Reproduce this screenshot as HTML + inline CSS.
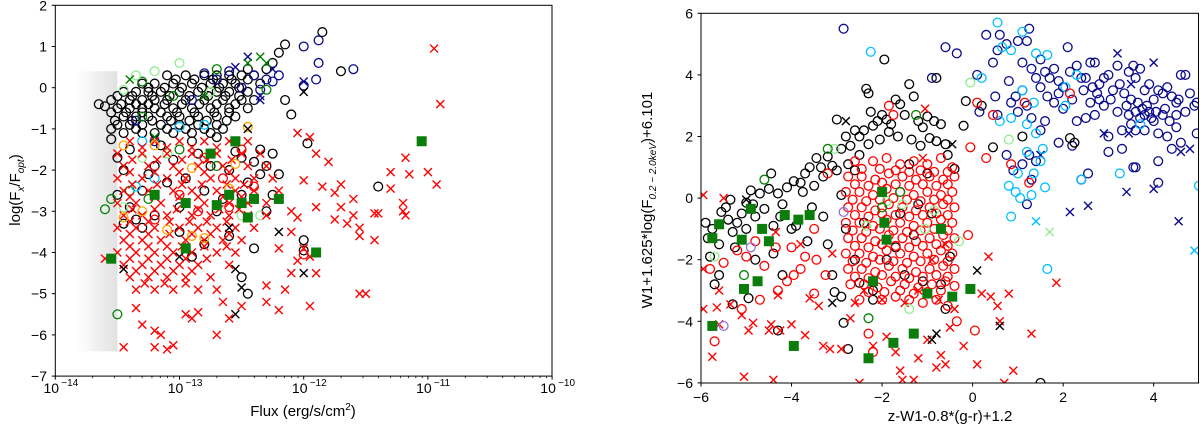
<!DOCTYPE html>
<html><head><meta charset="utf-8"><style>
html,body{margin:0;padding:0;background:#fff}
svg{display:block}
text{font-family:"Liberation Sans",sans-serif;fill:#000}
</style></head><body>
<svg id="fig" width="1200" height="429" viewBox="0 0 1200 429" xmlns="http://www.w3.org/2000/svg">
<defs>
<linearGradient id="haze" x1="0" x2="1" y1="0" y2="0">
<stop offset="0" stop-color="#fff" stop-opacity="0"/>
<stop offset="0.5" stop-color="#e4e4e4" stop-opacity="0.5"/>
<stop offset="1" stop-color="#d4d4d4" stop-opacity="0.7"/>
</linearGradient>
<clipPath id="clipL"><rect x="55.3" y="5.3" width="496.7" height="370.8"/></clipPath>
<clipPath id="clipR"><rect x="701" y="13.3" width="498" height="369.7"/></clipPath>
</defs>
<g id="left"></g>
<g id="right"></g>
</svg>
<script>
// ---------- LEFT PANEL DATA (x = log10 flux, y = log(Fx/Fopt)) ----------
const leftXTicks = [-14,-13,-12,-11,-10];
const leftYTicks = [2,1,0,-1,-2,-3,-4,-5,-6,-7];
const L_blackCirc = [
[-13.1,0.3],[-12.95,0.3],[-12.8,0.3],[-12.7,0.3],[-12.6,0.3],[-12.5,0.3],[-12.4,0.3],
[-13.3,0.1],[-13.2,0.1],[-13.05,0.1],[-12.9,0.1],[-12.75,0.1],[-12.65,0.1],[-12.55,0.1],[-12.35,0.1],
[-13.45,-0.1],[-13.35,-0.1],[-13.25,-0.1],[-13.15,-0.1],[-13.0,-0.1],[-12.85,-0.1],[-12.7,-0.1],[-12.6,-0.1],[-12.45,-0.1],
[-13.55,-0.3],[-13.4,-0.3],[-13.3,-0.3],[-13.2,-0.3],[-13.1,-0.3],[-12.95,-0.3],[-12.8,-0.3],[-12.65,-0.3],[-12.5,-0.3],[-12.4,-0.3],
[-13.5,-0.5],[-13.4,-0.5],[-13.3,-0.5],[-13.2,-0.5],[-13.05,-0.5],[-12.9,-0.5],[-12.75,-0.5],[-12.6,-0.5],[-12.45,-0.5],
[-13.45,-0.7],[-13.35,-0.7],[-13.25,-0.7],[-13.1,-0.7],[-13.0,-0.7],[-12.85,-0.7],[-12.7,-0.7],[-12.55,-0.7],
[-13.5,-0.9],[-13.4,-0.9],[-13.3,-0.9],[-13.15,-0.9],[-13.0,-0.9],[-12.85,-0.9],[-12.7,-0.9],
[-13.45,-1.1],[-13.3,-1.1],[-13.2,-1.1],[-13.05,-1.1],[-12.9,-1.1],[-12.75,-1.1],
[-13.03,0.2],[-12.88,0.2],[-12.73,0.2],[-12.58,0.2],[-12.45,0.2],[-13.25,0.0],[-13.12,0.0],[-12.98,0.0],[-12.82,0.0],[-12.68,0.0],[-12.52,0.0],
[-13.5,-0.2],[-13.38,-0.2],[-13.22,-0.2],[-13.08,-0.2],[-12.92,-0.2],[-12.77,-0.2],[-12.63,-0.2],[-12.52,-0.2],
[-13.47,-0.4],[-13.35,-0.4],[-13.25,-0.4],[-13.12,-0.4],[-12.98,-0.4],[-12.84,-0.4],[-12.7,-0.4],[-12.55,-0.4],
[-13.55,-0.6],[-13.43,-0.6],[-13.3,-0.6],[-13.15,-0.6],[-13.02,-0.6],[-12.88,-0.6],[-12.72,-0.6],[-12.6,-0.6],
[-13.52,-0.8],[-13.38,-0.8],[-13.22,-0.8],[-13.07,-0.8],[-12.92,-0.8],[-12.78,-0.8],[-12.62,-0.8],
[-13.55,-1.0],[-13.35,-1.0],[-13.1,-1.0],[-12.95,-1.0],[-12.8,-1.0],[-12.65,-1.0],
[-13.55,-1.25],[-13.5,-1.7],[-13.45,-2.0],[-13.5,-2.6],[-13.4,-2.9],[-13.3,-2.5],[-13.2,-1.9],[-13.1,-2.3],[-13.0,-2.9],[-12.95,-2.2],[-12.85,-1.6],[-12.8,-2.5],[-12.7,-3.0],[-12.6,-2.0],[-12.5,-1.7],[-12.45,-2.3],[-12.4,-1.8],[-12.3,-1.9],[-12.25,-2.6],[-12.2,-2.1],[-13.3,-3.4],[-13.2,-3.1],[-13.0,-3.5],[-12.9,-4.1],[-12.8,-3.8],[-12.6,-3.6],[-12.4,-3.9],[-13.15,-1.4],[-12.9,-1.3],[-12.7,-1.2],[-12.55,-1.55],[-12.5,-2.6],[-12.35,-1.5],
[-13.4,-1.5],[-13.25,-2.1],[-13.05,-1.75],[-12.75,-1.9],[-13.35,-3.2],[-12.65,-2.7],[-12.35,-2.1],[-12.25,-1.6],
[-12.15,1.05],[-11.85,1.35],[-12.2,0.85],[-11.7,0.4],[-12.15,-0.3],[-12.1,-0.65],[-11.97,-1.35],[-11.4,-2.4],[-12.3,-3.0],[-12.0,-3.7],[-12.0,-3.95],[-12.5,-4.6],[-12.45,-5.0],[-13.45,-3.3],[-13.6,-0.45],[-13.65,-0.4],[-12.25,0.6],[-12.3,0.45],[-12.45,0.45]];
const L_navyCirc = [[-12.0,1.0],[-11.88,1.15],[-11.88,0.6],[-11.6,0.45],[-11.9,0.2],[-12.0,0.05],[-12.2,0.3],[-12.3,0.2],[-12.4,0.3],[-12.6,0.4],[-12.7,0.2],[-12.5,0.0],[-12.35,-0.05],[-12.8,0.35],[-12.9,-0.3],[-13.2,-1.3],[-13.35,-0.8],[-12.25,0.15]];
const L_navyX = [[-12.45,0.75],[-12.35,-0.2],[-12.35,-0.3],[-12.0,0.15],[-12.25,0.45],[-12.55,0.5]];
const L_greenCirc = [[-13.6,-2.95],[-13.55,-2.7],[-13.4,-2.5],[-13.25,-2.7],[-13.0,-1.5],[-12.7,-1.9],[-13.5,-5.5],[-12.7,0.45],[-13.3,0.15],[-13.3,-0.7],[-12.3,-0.05],[-13.05,-0.2]];
const L_lgreenCirc = [[-13.45,-0.05],[-13.35,0.3],[-13.2,0.4],[-13.0,0.6],[-12.75,-0.1],[-13.3,-1.7],[-13.1,-1.6],[-12.5,-1.5],[-12.5,-3.1],[-12.35,-3.1],[-13.45,-2.9]];
const L_greenX = [[-12.35,0.75],[-12.3,0.6],[-12.45,0.6],[-13.4,0.2],[-13.2,-1.2],[-12.8,-0.2]];
const L_cyanCirc = [[-13.0,-0.95],[-12.8,-0.9],[-13.35,-2.4],[-13.3,-1.3],[-13.2,-2.2]];
const L_orangeCirc = [[-13.45,-1.4],[-13.2,-1.4],[-12.9,-1.95],[-12.6,-2.45],[-12.45,-0.95],[-12.8,-3.65],[-13.3,-3.0],[-13.1,-3.45],[-12.9,-3.6],[-12.55,-1.85],[-13.45,-3.15]];
const L_redCirc = [[-12.5,-1.5],[-12.6,-2.9],[-12.0,-4.05],[-12.4,-2.4],[-13.0,-2.6],[-12.8,-1.7],[-13.2,-3.2],[-12.85,-3.0],[-12.65,-2.2]];
const L_redX = [
[-13.4,-1.3],[-13.2,-1.3],[-13.0,-1.3],[-12.8,-1.3],[-12.6,-1.3],[-12.45,-1.3],
[-13.5,-1.6],[-13.3,-1.6],[-13.1,-1.6],[-12.9,-1.6],[-12.7,-1.6],[-12.5,-1.6],[-12.35,-1.6],
[-13.45,-1.9],[-13.25,-1.9],[-13.05,-1.9],[-12.85,-1.9],[-12.65,-1.9],[-12.45,-1.9],[-12.3,-1.9],
[-13.5,-2.2],[-13.3,-2.2],[-13.1,-2.2],[-12.95,-2.2],[-12.75,-2.2],[-12.55,-2.2],[-12.4,-2.2],[-12.25,-2.2],
[-13.45,-2.5],[-13.25,-2.5],[-13.05,-2.5],[-12.9,-2.5],[-12.7,-2.5],[-12.55,-2.5],[-12.4,-2.5],[-12.2,-2.5],
[-13.5,-2.8],[-13.35,-2.8],[-13.15,-2.8],[-12.95,-2.8],[-12.8,-2.8],[-12.6,-2.8],[-12.45,-2.8],[-12.3,-2.8],
[-13.45,-3.1],[-13.3,-3.1],[-13.1,-3.1],[-12.9,-3.1],[-12.75,-3.1],[-12.6,-3.1],[-12.45,-3.1],[-12.3,-3.1],
[-13.5,-3.4],[-13.35,-3.4],[-13.2,-3.4],[-13.0,-3.4],[-12.85,-3.4],[-12.7,-3.4],[-12.55,-3.4],[-12.4,-3.4],
[-13.45,-3.7],[-13.3,-3.7],[-13.15,-3.7],[-12.95,-3.7],[-12.8,-3.7],[-12.65,-3.7],[-12.5,-3.7],
[-13.5,-4.0],[-13.35,-4.0],[-13.2,-4.0],[-13.05,-4.0],[-12.9,-4.0],[-12.7,-4.0],[-12.55,-4.0],
[-13.45,-4.3],[-13.3,-4.3],[-13.15,-4.3],[-13.0,-4.3],[-12.85,-4.3],[-12.6,-4.3],
[-13.4,-4.6],[-13.25,-4.6],[-13.1,-4.6],[-12.95,-4.6],[-12.75,-4.6],
[-13.35,-4.9],[-13.2,-4.9],[-13.05,-4.9],[-12.85,-4.9],[-12.7,-4.9],
[-13.3,-1.45],[-13.1,-1.45],[-12.9,-1.45],[-12.7,-1.45],[-13.38,-1.75],[-13.18,-1.75],[-12.98,-1.75],[-12.78,-1.75],[-12.58,-1.75],
[-13.4,-2.05],[-13.2,-2.05],[-13.0,-2.05],[-12.8,-2.05],[-12.6,-2.05],[-13.38,-2.35],[-13.18,-2.35],[-12.98,-2.35],[-12.82,-2.35],[-12.62,-2.35],[-12.48,-2.35],
[-13.4,-2.65],[-13.2,-2.65],[-13.0,-2.65],[-12.85,-2.65],[-12.65,-2.65],[-12.5,-2.65],[-13.38,-2.95],[-13.2,-2.95],[-13.02,-2.95],[-12.85,-2.95],[-12.68,-2.95],[-12.52,-2.95],
[-13.4,-3.25],[-13.25,-3.25],[-13.08,-3.25],[-12.92,-3.25],[-12.78,-3.25],[-12.62,-3.25],[-13.4,-3.55],[-13.25,-3.55],[-13.08,-3.55],[-12.9,-3.55],[-12.75,-3.55],[-12.6,-3.55],
[-13.4,-3.85],[-13.25,-3.85],[-13.1,-3.85],[-12.98,-3.85],[-12.8,-3.85],[-12.62,-3.85],[-13.4,-4.15],[-13.25,-4.15],[-13.1,-4.15],[-12.95,-4.15],[-12.78,-4.15],
[-13.35,-4.45],[-13.2,-4.45],[-13.05,-4.45],[-12.9,-4.45],[-13.28,-4.75],[-13.12,-4.75],[-12.95,-4.75],
[-13.6,-4.15],[-13.35,-5.35],[-13.3,-5.75],[-13.2,-5.9],[-13.15,-6.0],[-13.2,-6.3],[-13.45,-6.3],[-13.1,-6.35],[-13.05,-6.25],[-12.95,-5.5],[-12.85,-5.45],[-12.9,-5.6],[-12.7,-6.0],[-12.65,-5.2],[-12.5,-5.3],[-12.6,-5.6],[-12.3,-5.2],[-12.2,-5.4],[-12.15,-4.9],[-12.1,-4.5],[-12.05,-4.2],[-12.2,-3.9],[-12.1,-3.5],[-12.0,-3.9],[-11.9,-4.5],[-12.3,-4.8],[-12.0,-2.25],[-12.05,-1.1],[-11.95,-1.2],[-11.9,-1.6],[-11.85,-2.4],[-11.75,-2.55],[-11.7,-2.35],[-11.6,-2.7],[-11.55,-3.4],[-11.55,-3.6],[-11.7,-2.9],[-11.9,-2.9],[-11.4,-3.05],[-11.6,-3.1],[-11.3,-2.05],[-11.3,-2.45],[-11.2,-2.8],[-11.2,-3.0],[-11.15,-2.1],[-11.43,-3.05],[-11.43,-3.7],[-11.18,-1.7],[-11.18,-3.1],[-11.0,-2.05],[-10.93,-2.35],[-10.9,-0.4],[-10.95,0.95],[-11.5,-5.0],[-11.55,-5.0],[-11.95,-5.3],[-11.95,-4.1],[-12.1,-3.0],[-12.05,-3.15],[-11.8,-1.8],[-11.75,-3.2],[-11.65,-3.3]];
const L_blackX = [[-12.45,-1.0],[-12.2,-3.5],[-12.55,-4.4],[-12.5,-4.85],[-12.55,-5.5],[-12.0,-4.5],[-12.0,-0.1],[-12.6,-3.4],[-13.45,-4.4],[-13.0,-4.1]];
const L_greenSq = [[-13.55,-4.15],[-12.55,-1.3],[-12.95,-2.8],[-12.4,-2.7],[-12.5,-2.8],[-12.45,-3.15],[-12.6,-2.6],[-12.2,-2.7],[-11.9,-4.0],[-11.05,-1.3],[-12.7,-2.85],[-12.95,-3.9],[-13.2,-2.6],[-12.75,-1.6]];

// ---------- RIGHT PANEL DATA ----------
const rightXTicks = [-6,-4,-2,0,2,4];
const rightYTicks = [6,4,2,0,-2,-4,-6];
const R_navyCirc = [[-2.85,5.5],[-0.6,4.9],[-0.35,4.7],[-0.9,3.9],[0.1,4.0],[0.15,2.8],[0.5,3.3],[0.55,2.7],[0.45,4.4],[0.55,4.8],[0.75,5.0],[0.6,5.3],[0.3,5.3],[1.0,5.1],[1.25,5.5],[1.2,5.1],[0.8,3.8],[0.85,3.1],[0.95,3.3],[1.1,3.5],[1.1,4.4],[1.3,4.2],[1.5,4.5],[1.4,3.9],[1.6,4.1],[1.7,3.9],[1.8,4.2],[1.9,3.8],[2.0,3.6],[2.1,4.9],[2.15,4.1],[2.3,4.3],[2.4,3.9],[2.5,3.9],[2.6,4.4],[2.7,4.4],[2.8,3.7],[2.9,3.9],[3.0,4.0],[3.1,3.5],[3.2,4.3],[3.35,3.4],[3.45,4.1],[3.55,4.3],[3.6,3.9],[3.7,4.2],[3.8,3.5],[3.9,3.7],[4.0,3.2],[4.1,3.5],[4.2,3.4],[4.3,3.6],[4.4,3.3],[4.5,3.1],[4.55,3.2],[4.6,4.0],[4.7,4.0],[4.8,3.4],[4.9,3.0],[4.95,3.1],[4.95,2.1],[1.0,2.8],[1.2,3.0],[1.3,2.6],[1.5,2.2],[1.6,2.5],[1.8,3.1],[1.9,1.8],[2.2,1.7],[2.3,2.5],[2.5,2.6],[2.6,3.1],[2.7,2.7],[2.8,3.2],[2.9,3.0],[3.0,2.0],[3.0,1.5],[3.3,2.2],[3.3,1.6],[3.5,2.4],[3.6,2.8],[3.7,2.6],[3.8,2.2],[3.9,2.8],[4.0,2.5],[4.1,2.1],[4.2,2.7],[4.3,2.0],[4.4,1.6],[4.5,2.3],[4.6,1.8],[4.1,1.2],[4.1,0.5],[3.6,1.0],[3.55,1.0],[2.55,0.8],[2.4,0.6],[1.25,1.4],[1.4,1.2],[1.1,1.1],[1.2,-0.2],[1.3,0.6],[0.75,1.4],[0.9,0.9],[2.0,2.9],[3.4,3.0],[3.2,2.8],[4.7,2.8],[4.5,2.7],
[3.5,3.2],[3.65,3.1],[3.75,2.9],[3.85,3.0],[3.95,2.6],[4.05,2.8],[4.25,2.9],[4.35,2.5],[3.45,2.7],[3.6,2.2],[3.8,2.7],[2.45,3.5],[2.65,3.6],[2.75,3.4],[3.05,3.2],[3.25,3.7],[1.5,3.6],[1.65,3.3],[1.9,3.4],[2.2,3.2]];
const R_navyX = [[3.2,4.7],[4.0,4.4],[3.5,3.7],[4.8,1.6],[4.6,1.5],[2.9,2.1],[3.45,2.1],[1.5,1.4],[2.15,-0.45],[2.55,-0.25],[3.4,0.2],[4.0,0.3],[4.55,-0.75]];
const R_cyanCirc = [[-2.25,4.75],[0.55,5.7],[0.65,4.9],[0.85,4.8],[1.1,5.4],[1.4,4.7],[1.65,4.65],[2.05,3.6],[2.05,3.0],[2.3,4.0],[0.6,2.5],[0.85,2.6],[1.2,2.4],[1.4,2.1],[1.55,1.6],[1.2,1.5],[1.0,0.8],[1.35,0.8],[0.8,0.4],[0.95,0.2],[1.05,0.0],[1.3,0.1],[1.6,0.35],[0.85,-0.6],[1.65,-2.3],[1.5,1.2],[2.4,0.6],[3.25,0.8],[3.7,2.4],[1.1,3.5],[0.2,3.9],[5.0,0.4],[1.35,3.1]];
const R_cyanX = [[1.4,-0.75],[4.9,-1.7]];
const R_lgreenCirc = [[-0.05,3.75],[0.8,1.9],[-1.55,-0.2],[-1.9,-0.1],[-0.85,-0.4],[-1.05,-1.0],[-3.05,1.6],[-0.3,-1.4],[-1.4,-3.6],[-2.35,-0.9],[-5.7,-1.9]];
const R_lgreenX = [[1.7,-1.1]];
const R_greenCirc = [[-4.6,0.6],[-3.2,1.6],[-5.05,-2.5],[-2.3,-3.9],[-1.25,2.7],[-2.0,-0.3],[-1.6,0.2]];
const R_purpleCirc = [[-5.5,-4.15],[-4.9,-1.6],[-2.85,-0.45]];
const R_blackCirc = [[-5.9,-0.8],[-5.85,-1.3],[-5.8,-1.9],[-5.7,-2.8],[-5.6,-2.5],[-5.6,-1.5],[-5.55,-0.45],[-5.4,-0.7],[-5.35,-0.05],[-5.3,-1.1],[-5.25,-1.6],[-5.2,-0.8],[-5.1,-0.5],[-5.0,-1.0],[-5.0,-0.15],[-4.9,0.25],[-4.8,-0.6],[-4.7,0.15],[-4.6,-0.35],[-4.5,0.3],[-4.4,-0.9],[-4.4,-1.8],[-4.3,0.15],[-4.2,-0.2],[-4.1,0.35],[-4.0,-1.0],[-3.95,0.55],[-3.9,-0.9],[-3.8,0.5],[-3.7,0.8],[-3.6,1.0],[-3.5,0.4],[-3.45,1.3],[-3.35,1.0],[-3.2,1.35],[-3.1,1.05],[-3.0,2.55],[-2.9,1.6],[-2.8,2.0],[-2.7,1.7],[-2.6,2.2],[-2.5,2.0],[-2.4,2.2],[-2.35,3.55],[-2.3,3.4],[-2.25,2.8],[-2.2,2.35],[-2.1,2.5],[-2.0,2.7],[-1.95,4.5],[-1.9,2.55],[-1.85,2.15],[-1.8,2.4],[-1.7,3.2],[-1.6,3.05],[-1.5,2.7],[-1.4,3.7],[-1.3,3.3],[-1.2,2.5],[-1.1,2.3],[-1.0,2.65],[-0.95,1.95],[-0.85,2.5],[-0.8,1.85],[-0.7,2.4],[-0.6,1.75],[-0.55,1.4],[-0.4,0.95],[-0.2,2.35],[-0.15,3.15],[0.2,3.0],[0.45,1.65],[1.1,2.0],[2.15,1.95],[2.25,1.8],[-0.8,3.9],[-4.45,0.8],[-4.95,-3.25],[-5.3,-3.45],[-4.3,-4.3],[-2.85,-4.05],[-2.75,-4.9],[-3.1,-2.5],[-3.05,-3.05],[-2.9,-3.2],[-2.5,-2.75],[-2.2,-3.0],[-1.9,-2.0],[-1.7,-1.6],[-1.5,-2.5],[-1.3,-1.2],[-1.1,-2.7],[-0.9,-0.5],[-0.7,-2.8],[-0.6,-3.6],[-0.5,-1.9],[-2.2,-3.3],[-2.6,-2.0],[-3.3,-0.6],[-3.2,-1.5],[-2.8,-1.0],[-2.4,-0.8],[-2.0,-1.5],[-1.6,-0.5],[-1.2,-0.2],[-3.65,-1.4],[-4.2,-2.5],[-4.8,-2.0],[-1.0,0.8],[-1.4,1.1],[-2.9,0.1],[-2.6,0.9],[1.5,-6.0],
[-3.3,0.7],[-3.0,0.9],[-2.75,1.1],[-2.5,1.4],[-2.3,1.75],[-2.05,1.9],[-1.65,2.0],[-1.35,1.9],[-1.15,1.7],[-4.85,-0.2],[-5.45,-0.3],[-5.75,-1.0],[-4.25,-0.6],[-3.75,0.2],[-3.55,-0.3]];
const R_blackX = [[-2.8,2.5],[-0.45,1.75],[0.6,-4.15],[0.1,-2.35],[-0.9,-4.6],[-0.8,-4.4],[-3.1,-3.4],[-5.0,-0.05]];
const R_redCirc = [
[-2.6,1.2],[-2.2,1.2],[-1.9,1.3],[-1.6,1.1],[-1.3,1.2],[-1.0,1.1],[-0.7,1.3],[-0.45,1.0],
[-2.75,0.7],[-2.45,0.7],[-2.15,0.6],[-1.85,0.8],[-1.55,0.7],[-1.25,0.6],[-0.95,0.7],[-0.65,0.6],[-0.4,0.7],
[-2.8,0.2],[-2.5,0.2],[-2.2,0.1],[-1.9,0.3],[-1.6,0.2],[-1.3,0.1],[-1.0,0.2],[-0.7,0.1],[-0.45,0.2],
[-2.75,-0.3],[-2.45,-0.3],[-2.15,-0.4],[-1.85,-0.2],[-1.55,-0.3],[-1.25,-0.4],[-0.95,-0.3],[-0.65,-0.2],[-0.4,-0.3],
[-2.8,-0.8],[-2.5,-0.8],[-2.2,-0.9],[-1.9,-0.7],[-1.6,-0.8],[-1.3,-0.9],[-1.0,-0.8],[-0.7,-0.7],[-0.45,-0.8],
[-2.75,-1.3],[-2.45,-1.3],[-2.15,-1.4],[-1.85,-1.2],[-1.55,-1.3],[-1.25,-1.4],[-0.95,-1.3],[-0.65,-1.2],[-0.4,-1.3],
[-2.8,-1.8],[-2.5,-1.8],[-2.2,-1.9],[-1.9,-1.7],[-1.6,-1.8],[-1.3,-1.9],[-1.0,-1.8],[-0.7,-1.7],[-0.45,-1.8],
[-2.75,-2.3],[-2.45,-2.3],[-2.15,-2.4],[-1.85,-2.2],[-1.55,-2.3],[-1.25,-2.4],[-0.95,-2.3],[-0.65,-2.2],[-0.4,-2.3],
[-2.7,-2.8],[-2.4,-2.8],[-2.1,-2.9],[-1.8,-2.7],[-1.5,-2.8],[-1.2,-2.9],[-0.9,-2.8],[-0.6,-2.7],[-0.4,-2.85],
[-2.5,-3.3],[-2.0,-3.3],[-1.7,-3.2],[-1.4,-3.3],[-1.1,-3.4],[-0.8,-3.3],[-0.55,-3.5],
[-2.45,0.95],[-2.05,0.95],[-1.7,0.9],[-1.4,0.85],[-1.15,0.9],[-0.85,0.85],[-0.55,0.85],
[-2.6,0.45],[-2.3,0.4],[-2.0,0.5],[-1.7,0.45],[-1.4,0.4],[-1.1,0.45],[-0.8,0.4],[-0.55,0.45],
[-2.65,-0.05],[-2.35,-0.1],[-2.05,-0.05],[-1.75,0.0],[-1.45,-0.05],[-1.15,-0.1],[-0.85,-0.05],[-0.55,-0.05],
[-2.6,-0.55],[-2.3,-0.6],[-2.0,-0.5],[-1.7,-0.55],[-1.4,-0.6],[-1.1,-0.55],[-0.8,-0.5],[-0.55,-0.55],
[-2.65,-1.05],[-2.35,-1.1],[-2.05,-1.0],[-1.75,-1.05],[-1.45,-1.1],[-1.15,-1.05],[-0.85,-1.0],[-0.55,-1.05],
[-2.6,-1.55],[-2.3,-1.6],[-2.0,-1.5],[-1.7,-1.55],[-1.4,-1.6],[-1.1,-1.55],[-0.8,-1.5],[-0.55,-1.55],
[-2.65,-2.05],[-2.35,-2.1],[-2.05,-2.0],[-1.75,-2.05],[-1.45,-2.1],[-1.15,-2.05],[-0.85,-2.0],[-0.55,-2.05],
[-2.6,-2.55],[-2.3,-2.6],[-2.0,-2.5],[-1.7,-2.55],[-1.4,-2.6],[-1.1,-2.55],[-0.8,-2.5],[-0.55,-2.55],
[-2.3,-3.05],[-1.95,-3.05],[-1.6,-3.0],[-1.3,-3.1],[-1.0,-3.05],[-0.7,-3.0],
[-5.7,-4.65],[-5.8,-2.3],[-5.5,-2.1],[-5.2,-1.7],[-5.0,-1.9],[-4.8,-1.4],[-4.6,-2.2],[-4.3,-3.0],[-4.1,-2.7],[-4.0,-1.6],[-3.8,-2.3],[-3.7,-1.9],[-3.5,-3.1],[-3.45,-2.0],[-3.25,-2.5],[-3.2,0.8],[-3.5,-1.0],[-5.1,-3.6],[-4.7,-3.3],[-4.35,-1.6],[-3.95,-2.5],[-2.3,-4.4],[-2.2,-5.0],[0.05,-4.3],[-0.35,-4.0],[0.1,3.1],[-0.05,1.65],[0.45,2.7],[0.3,1.3],[1.15,3.1],[2.15,3.4],[0.85,1.1],[1.25,0.5],[-0.1,-1.2],[-1.85,3.0],[-1.75,2.7]];
const R_redX = [[-5.95,0.1],[-5.5,0.0],[-5.95,-2.3],[-5.6,-3.0],[-5.95,-3.6],[-5.65,-3.55],[-5.6,-4.1],[-5.75,-5.15],[-5.05,-5.8],[-5.35,-3.45],[-4.95,-4.3],[-4.85,-4.05],[-4.5,-4.3],[-4.45,-4.1],[-4.25,-4.3],[-4.3,-3.15],[-4.0,-4.1],[-3.7,-4.45],[-3.6,-3.25],[-3.4,-3.5],[-3.3,-4.8],[-3.15,-4.9],[-2.9,-4.9],[-2.7,-3.9],[-2.6,-3.4],[-2.4,-3.0],[-2.3,-5.2],[-2.2,-4.8],[-1.9,-4.5],[-1.7,-5.0],[-1.6,-5.6],[-1.55,-5.9],[-1.3,-5.9],[-1.2,-5.2],[-1.0,-4.6],[-0.8,-5.5],[-0.7,-5.1],[-0.6,-5.4],[-0.5,-4.2],[-0.4,-3.6],[-0.2,-4.8],[0.1,-5.4],[0.2,-3.1],[0.4,-3.2],[0.55,-3.5],[0.8,-3.1],[0.6,-4.0],[0.9,-5.6],[0.35,-1.9],[1.85,-2.75],[1.3,-4.4],[-1.05,2.9],[-1.1,1.3],[-3.8,-1.5],[-4.35,-1.1],[-3.1,-1.8],[-1.5,-3.4],[-1.2,-3.0],[-0.9,-2.0],[-0.6,-1.5],[-0.75,-3.3],[-2.0,-3.3],[0.7,-6.0],[-2.5,-6.0],[-4.4,-5.9],[-5.1,-3.8]];
const R_greenSq = [[-5.6,-0.85],[-5.75,-1.3],[-5.1,-1.35],[-4.9,-0.35],[-4.65,-1.0],[-4.5,-1.4],[-4.15,-0.55],[-3.85,-0.7],[-3.6,-0.55],[-5.05,-2.95],[-4.75,-2.7],[-5.75,-4.15],[-3.95,-4.8],[-2.3,-5.2],[-1.75,-4.7],[-1.3,-4.4],[-1.0,-3.1],[-0.45,-3.2],[-0.05,-2.95],[-1.95,-0.8],[-2.0,0.2],[-2.2,-2.7],[-1.9,-1.35],[-0.7,-1.0]];

const NS = "http://www.w3.org/2000/svg";
function mk(tag, attrs, parent){const e=document.createElementNS(NS,tag);for(const k in attrs)e.setAttribute(k,attrs[k]);parent.appendChild(e);return e;}

// axis functions
const LX = v => 55.3 + (v + 14) * 124.2;
const LY = v => 5.3 + (2 - v) * 41.2;
const RX = v => 701 + (v + 6) * 45.27;
const RY = v => 13.3 + (6 - v) * 30.8;

function drawSeries(parent, data, kind, color, fx, fy, name){
  const g = mk('g', {}, parent);
  
  
  for (const d of data){
    const x = fx(d[0]), y = fy(d[1]);
    let el;
    if (kind === 'o'){
      el = mk('circle', {cx:x, cy:y, r:4.4, fill:'none', stroke:color, 'stroke-width':1.3}, g);
    } else if (kind === 'x'){
      el = mk('path', {d:`M${x-4},${y-4}L${x+4},${y+4}M${x-4},${y+4}L${x+4},${y-4}`, stroke:color, 'stroke-width':1.4, fill:'none'}, g);
    } else {
      el = mk('rect', {x:x-5, y:y-5, width:10, height:10, fill:color}, g);
    }
    
    
  }
}

// ---------- LEFT PANEL ----------
const left = document.getElementById('left');
const lp = mk('g', {'clip-path':'url(#clipL)'}, left);
const haze = mk('rect', {x:LX(-13.88), y:LY(0.4), width:LX(-13.5)-LX(-13.88), height:LY(-6.4)-LY(0.4), fill:'url(#haze)'}, lp);


drawSeries(lp, L_blackCirc, 'o', '#000', LX, LY, 'left-black-circles');
drawSeries(lp, L_navyCirc, 'o', '#0a0a8c', LX, LY, 'left-navy-circles');
drawSeries(lp, L_navyX, 'x', '#0a0a8c', LX, LY, 'left-navy-crosses');
drawSeries(lp, L_greenCirc, 'o', '#008000', LX, LY, 'left-green-circles');
drawSeries(lp, L_lgreenCirc, 'o', '#90ee90', LX, LY, 'left-lightgreen-circles');
drawSeries(lp, L_greenX, 'x', '#008000', LX, LY, 'left-green-crosses');
drawSeries(lp, L_cyanCirc, 'o', '#00bfff', LX, LY, 'left-cyan-circles');
drawSeries(lp, L_redX, 'x', '#ff0000', LX, LY, 'left-red-crosses');
drawSeries(lp, L_redCirc, 'o', '#ff0000', LX, LY, 'left-red-circles');
drawSeries(lp, L_orangeCirc, 'o', '#ffa500', LX, LY, 'left-orange-circles');
drawSeries(lp, L_blackX, 'x', '#000', LX, LY, 'left-black-crosses');
drawSeries(lp, L_greenSq, 's', '#0a7d0a', LX, LY, 'left-green-squares');

const lframe = mk('rect', {x:55.3, y:5.3, width:496.7, height:370.8, fill:'none', stroke:'#000', 'stroke-width':1}, left);



for (const t of leftYTicks){
  const y = LY(t);
  mk('line', {x1:51.8, x2:55.3, y1:y, y2:y, stroke:'#000', 'stroke-width':1}, left);
  const tx = mk('text', {x:47, y:y+5, 'font-size':14, 'text-anchor':'end'}, left);
  tx.textContent = t < 0 ? '\u2212' + Math.abs(t) : String(t);
  
  
}
for (const t of leftXTicks){
  const x = LX(t);
  mk('line', {x1:x, x2:x, y1:376.1, y2:379.6, stroke:'#000', 'stroke-width':1}, left);
  const tx = mk('text', {x:x-4, y:393, 'font-size':14, 'text-anchor':'middle'}, left);
  tx.textContent = '10';
  
  
  const sp = mk('text', {x:x+6, y:386, 'font-size':10, 'text-anchor':'start'}, left);
  sp.textContent = '\u2212' + Math.abs(t);
  if (t < -10) for (let m = 2; m <= 9; m++){
    const mx = LX(t + Math.log10(m));
    mk('line', {x1:mx, x2:mx, y1:376.1, y2:378.1, stroke:'#000', 'stroke-width':0.8}, left);
  }
}
const lxl = mk('text', {x:303, y:416, 'font-size':15, 'text-anchor':'middle'}, left);
lxl.innerHTML = 'Flux (erg/s/cm<tspan dy="-6" font-size="10">2</tspan><tspan dy="6">)</tspan>';


const lyl = mk('text', {x:0, y:0, 'font-size':15, 'text-anchor':'middle', transform:'translate(20,190) rotate(-90)'}, left);
lyl.innerHTML = 'log(F<tspan dy="4" font-size="10" font-style="italic">x</tspan><tspan dy="-4">/F</tspan><tspan dy="4" font-size="10" font-style="italic">opt</tspan><tspan dy="-4">)</tspan>';



// ---------- RIGHT PANEL ----------
const right = document.getElementById('right');
const rp = mk('g', {'clip-path':'url(#clipR)'}, right);
drawSeries(rp, R_navyCirc, 'o', '#0a0a8c', RX, RY, 'right-navy-circles');
drawSeries(rp, R_navyX, 'x', '#0a0a8c', RX, RY, 'right-navy-crosses');
drawSeries(rp, R_cyanCirc, 'o', '#00bfff', RX, RY, 'right-cyan-circles');
drawSeries(rp, R_cyanX, 'x', '#00bfff', RX, RY, 'right-cyan-crosses');
drawSeries(rp, R_blackCirc, 'o', '#000', RX, RY, 'right-black-circles');
drawSeries(rp, R_redX, 'x', '#ff0000', RX, RY, 'right-red-crosses');
drawSeries(rp, R_redCirc, 'o', '#ff0000', RX, RY, 'right-red-circles');
drawSeries(rp, R_lgreenCirc, 'o', '#90ee90', RX, RY, 'right-lightgreen-circles');
drawSeries(rp, R_lgreenX, 'x', '#90ee90', RX, RY, 'right-lightgreen-crosses');
drawSeries(rp, R_greenCirc, 'o', '#008000', RX, RY, 'right-green-circles');
drawSeries(rp, R_purpleCirc, 'o', '#9370db', RX, RY, 'right-purple-circles');
drawSeries(rp, R_blackX, 'x', '#000', RX, RY, 'right-black-crosses');
drawSeries(rp, R_greenSq, 's', '#0a7d0a', RX, RY, 'right-green-squares');

const rframe = mk('rect', {x:701, y:13.3, width:497.5, height:369.7, fill:'none', stroke:'#000', 'stroke-width':1}, right);


for (const t of rightYTicks){
  const y = RY(t);
  mk('line', {x1:697.5, x2:701, y1:y, y2:y, stroke:'#000', 'stroke-width':1}, right);
  const tx = mk('text', {x:693, y:y+5, 'font-size':14, 'text-anchor':'end'}, right);
  tx.textContent = t < 0 ? '\u2212' + Math.abs(t) : String(t);
  
  
}
for (const t of rightXTicks){
  const x = RX(t);
  mk('line', {x1:x, x2:x, y1:383, y2:386.5, stroke:'#000', 'stroke-width':1}, right);
  const tx = mk('text', {x:x, y:402, 'font-size':14, 'text-anchor':'middle'}, right);
  tx.textContent = t < 0 ? '\u2212' + Math.abs(t) : String(t);
  
  
}
const rxl = mk('text', {x:950, y:421, 'font-size':15, 'text-anchor':'middle'}, right);
rxl.textContent = 'z-W1-0.8*(g-r)+1.2';


const ryl = mk('text', {x:0, y:0, 'font-size':15, 'text-anchor':'middle', transform:'translate(652,200) rotate(-90)'}, right);
ryl.innerHTML = 'W1+1.625*log(F<tspan dy="4" font-size="10" font-style="italic">0.2 \u2212 2.0keV</tspan><tspan dy="-4">)+6.101</tspan>';


</script>
</body></html>
